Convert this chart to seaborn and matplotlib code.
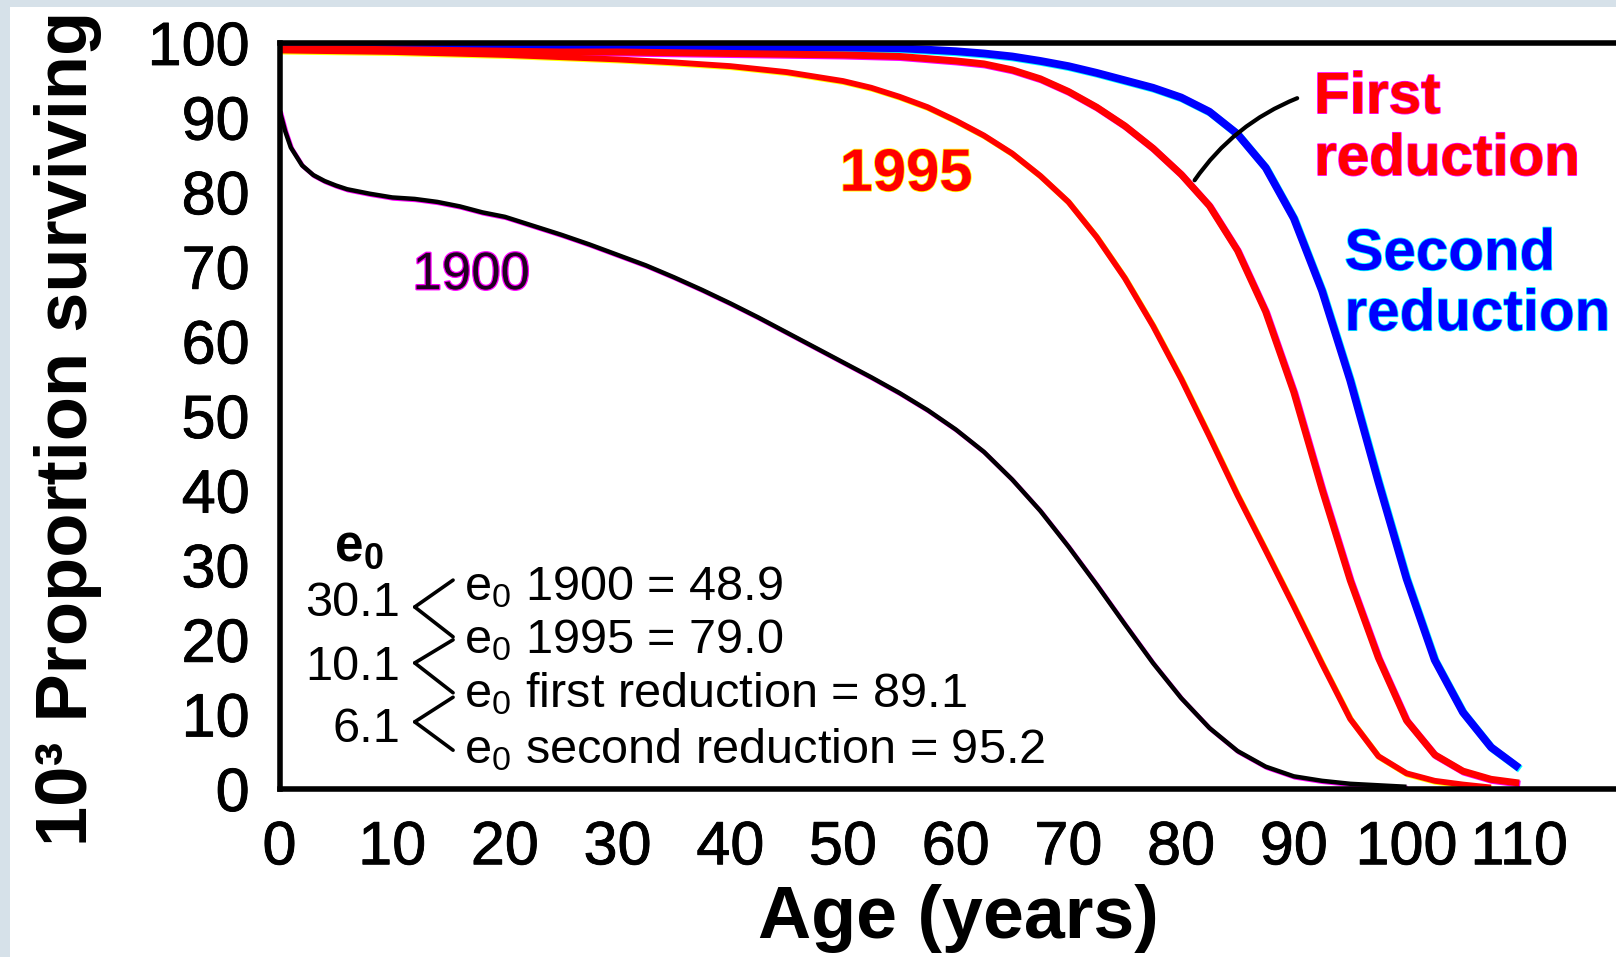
import numpy as np
import pandas as pd
import matplotlib
matplotlib.use("Agg")
import matplotlib.pyplot as plt
import matplotlib.patheffects as pe
from matplotlib.patches import Rectangle
import seaborn as sns

# ---------------- data ----------------
ages_1900 = [0, 0.5, 1, 2, 3, 4, 5, 6, 8, 10, 12, 14, 16, 18, 20, 22.5, 25,
             27.5, 30, 32.5, 35, 37.5, 40, 42.5, 45, 47.5, 50, 52.5, 55,
             57.5, 60, 62.5, 65, 67.5, 70, 72.5, 75, 77.5, 80, 82.5, 85,
             87.5, 90, 92.5, 95, 97.5, 100]
surv_1900 = [91.0, 88.2, 86.0, 83.6, 82.3, 81.5, 80.9, 80.4, 79.8, 79.3,
             79.1, 78.7, 78.1, 77.3, 76.7, 75.5, 74.3, 73.0, 71.6, 70.2,
             68.6, 66.9, 65.1, 63.2, 61.2, 59.2, 57.2, 55.2, 53.1, 50.8,
             48.2, 45.2, 41.5, 37.3, 32.5, 27.4, 22.1, 16.9, 12.2, 8.2, 5.1,
             3.0, 1.7, 1.1, 0.7, 0.5, 0.3]

ages_modern = [0, 5, 10, 15, 20, 25, 30, 35, 40, 45, 50, 52.5, 55, 57.5, 60,
               62.5, 65, 67.5, 70, 72.5, 75, 77.5, 80, 82.5, 85, 87.5, 90,
               92.5, 95, 97.5, 100, 102.5, 105, 107.5, 110]
surv_1995 = [99.0, 98.9, 98.8, 98.6, 98.4, 98.1, 97.8, 97.4, 96.9, 96.1,
             94.9, 94.0, 92.8, 91.4, 89.6, 87.6, 85.2, 82.2, 78.7, 74.0,
             68.5, 62.1, 55.0, 47.3, 39.4, 32.0, 24.5, 16.8, 9.4, 4.4, 2.1,
             1.1, 0.6, 0.2, np.nan]
surv_first = [99.2, 99.2, 99.1, 99.0, 98.9, 98.8, 98.8, 98.7, 98.6, 98.5,
              98.4, 98.3, 98.2, 97.9, 97.6, 97.2, 96.4, 95.2, 93.5, 91.4,
              88.9, 85.9, 82.4, 78.2, 72.2, 64.0, 53.2, 40.2, 28.0, 17.6,
              9.2, 4.6, 2.4, 1.3, 0.8]
surv_second = [99.4, 99.4, 99.4, 99.4, 99.4, 99.4, 99.4, 99.4, 99.4, 99.4,
               99.4, 99.35, 99.3, 99.1, 98.9, 98.6, 98.2, 97.6, 96.9, 96.0,
               95.0, 94.0, 92.7, 90.8, 87.8, 83.3, 76.5, 66.8, 54.8, 41.2,
               28.2, 17.3, 10.3, 5.6, 2.8]

series_names = ["Second reduction", "First reduction", "1995", "1900"]
series_ages = [ages_modern, ages_modern, ages_modern, ages_1900]
series_values = [surv_second, surv_first, surv_1995, surv_1900]

x_ticks = [0, 10, 20, 30, 40, 50, 60, 70, 80, 90, 100, 110]
y_ticks = [0, 10, 20, 30, 40, 50, 60, 70, 80, 90, 100]

e0_lines = [r"$\mathrm{e}_0$ 1900 = 48.9",
            r"$\mathrm{e}_0$ 1995 = 79.0",
            r"$\mathrm{e}_0$ first reduction = 89.1",
            r"$\mathrm{e}_0$ second reduction = 95.2"]
e0_diffs = ["30.1", "10.1", "6.1"]

# ---------------- styling ----------------
line_colors = ["#0000ff", "#ff0000", "#ff0000", "#000000"]
edge_colors = ["#00ffff", "#ff00ff", "#ffff00", "#ff00ff"]
line_widths = [5.6, 5.0, 4.2, 3.2]

sns.set_style("white")
plt.rcParams["font.family"] = ["Liberation Sans", "DejaVu Sans"]
plt.rcParams["mathtext.fontset"] = "custom"
plt.rcParams["mathtext.rm"] = "Liberation Sans"
plt.rcParams["mathtext.bf"] = "Liberation Sans:bold"
plt.rcParams["mathtext.it"] = "Liberation Sans:italic"

df = pd.concat(
    [pd.DataFrame({"age": a, "surv": v, "series": n})
     for n, a, v in zip(series_names, series_ages, series_values)],
    ignore_index=True).dropna()

W, H = 1616, 957
fig = plt.figure(figsize=(W / 100, H / 100), dpi=100, facecolor="white")
strip = "#d6e1e9"
fig.patches.append(Rectangle((0, 0), 10 / W, 1, transform=fig.transFigure,
                             facecolor=strip, edgecolor="none", zorder=-5))
fig.patches.append(Rectangle((0, (H - 7) / H), 1, 7 / H,
                             transform=fig.transFigure, facecolor=strip,
                             edgecolor="none", zorder=-5))

x0_px, y0_px, ytop_px = 279.5, 789, 43
px_per_year = 11.27
ax = fig.add_axes([x0_px / W, (H - y0_px) / H, (W - x0_px) / W,
                   (y0_px - ytop_px) / H])
ax.set_facecolor("white")

sns.lineplot(data=df, x="age", y="surv", hue="series",
             hue_order=series_names,
             palette=dict(zip(series_names, line_colors)),
             estimator=None, sort=False, legend=False, ax=ax)

for line, lw, ec in zip(ax.lines, line_widths, edge_colors):
    line.set_linewidth(lw)
    line.set_solid_capstyle("butt")
    line.set_solid_joinstyle("round")
    line.set_path_effects([pe.SimpleLineShadow(offset=(0.8, -0.8),
                                               shadow_color=ec, alpha=1.0),
                           pe.Normal()])

ax.set_xlim(0, (W - x0_px) / px_per_year)
ax.set_ylim(0, 100)
ax.set_xticks(x_ticks)
ax.set_yticks(y_ticks)
ax.tick_params(direction="out", length=10.5, width=3.2, labelsize=44,
               colors="black")
ax.tick_params(axis="x", pad=12)
ax.tick_params(axis="y", pad=11)
for lbl in ax.get_xticklabels() + ax.get_yticklabels():
    lbl.set_path_effects([pe.withStroke(linewidth=0.6, foreground="black")])
for s in ["left", "top", "bottom"]:
    ax.spines[s].set_visible(True)
    ax.spines[s].set_linewidth(4)
    ax.spines[s].set_color("black")
ax.spines["right"].set_visible(False)

ax.set_xlabel("Age (years)", fontsize=53, fontweight="bold", color="black")
ax.xaxis.set_label_coords(0.508, -0.127)
ax.set_ylabel("10³ Proportion surviving", fontsize=52, fontweight="bold",
              color="black")
ax.yaxis.set_label_coords(-0.133, 0.484)

# ---------------- annotations ----------------
ax.text(11.8, 67.0, "1900", fontsize=38, color="#200020", va="baseline",
        path_effects=[pe.withStroke(linewidth=1.8, foreground="#ff00ff")])
ax.text(49.7, 80.2, "1995", fontsize=43, fontweight="bold", color="red",
        va="baseline",
        path_effects=[pe.withStroke(linewidth=1.2, foreground="#ffff00")])
ax.text(91.8, 90.6, "First", fontsize=42, fontweight="bold", color="red",
        va="baseline",
        path_effects=[pe.withStroke(linewidth=1.2, foreground="#ff00ff")])
ax.text(91.8, 82.3, "reduction", fontsize=42, fontweight="bold", color="red",
        va="baseline",
        path_effects=[pe.withStroke(linewidth=1.2, foreground="#ff00ff")])
ax.text(94.5, 69.6, "Second", fontsize=42, fontweight="bold", color="blue",
        va="baseline",
        path_effects=[pe.withStroke(linewidth=1.2, foreground="#00ffff")])
ax.text(94.5, 61.5, "reduction", fontsize=42, fontweight="bold",
        color="blue", va="baseline",
        path_effects=[pe.withStroke(linewidth=1.2, foreground="#00ffff")])

ax.annotate("", xy=(81.2, 81.6), xytext=(90.3, 92.6),
            arrowprops=dict(arrowstyle="-", lw=3, color="black",
                            shrinkA=0, shrinkB=0,
                            connectionstyle="arc3,rad=0.15"))

# e0 block
ax.text(7.05, 32.4, r"$\mathbf{e}_\mathbf{0}$", fontsize=37, ha="center",
        va="center", color="black")
for txt, yv in zip(e0_lines, [25.3, 18.2, 11.0, 3.5]):
    ax.text(16.4, yv, txt, fontsize=35, ha="left", va="baseline",
            color="black")
for txt, yv in zip(e0_diffs, [24.9, 16.35, 8.0]):
    ax.text(10.7, yv, txt, fontsize=35, ha="right", va="center",
            color="black")
for top, mid, bot in [(28.0, 24.4, 20.4), (20.0, 16.9, 12.9),
                      (12.3, 9.0, 5.2)]:
    for end in (top, bot):
        ax.annotate("", xy=(15.4, end), xytext=(12.0, mid),
                    arrowprops=dict(arrowstyle="-", lw=2.6, color="black",
                                    shrinkA=0, shrinkB=0))

fig.savefig("out.png", dpi=100, facecolor=fig.get_facecolor())
